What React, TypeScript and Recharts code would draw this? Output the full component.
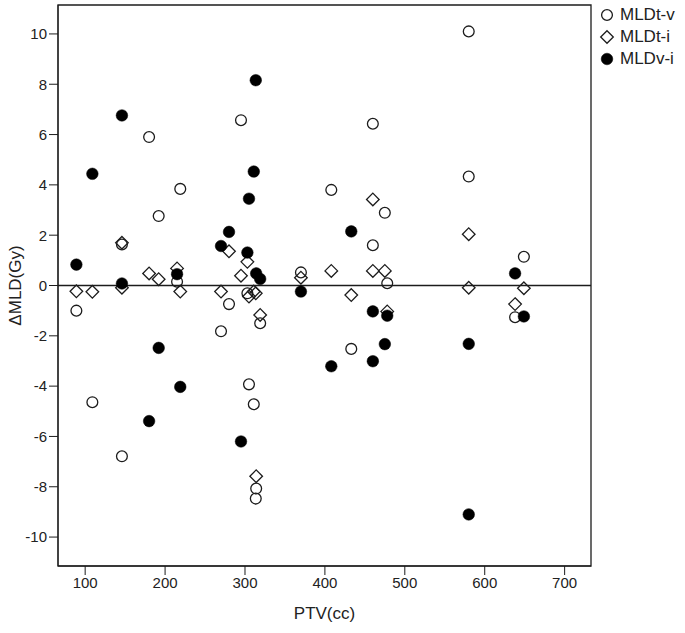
import {
  ScatterChart,
  Scatter,
  XAxis,
  YAxis,
  ReferenceLine,
  ReferenceArea,
  Legend,
} from "recharts";

// one entry per patient
const ptv = [89, 109, 146, 146, 180, 192, 215, 219, 270, 280, 295, 303, 305, 311, 313.5, 314, 319, 370, 408, 433, 460, 460, 475, 478, 580, 580, 638, 649];
const mldTV = [-1.0, -4.64, 1.63, -6.79, 5.9, 2.76, 0.15, 3.84, -1.82, -0.74, 6.57, -0.31, -3.93, -4.72, -8.47, -8.07, -1.5, 0.52, 3.8, -2.52, 6.43, 1.6, 2.89, 0.09, 10.1, 4.33, -1.26, 1.14];
const mldTI = [-0.23, -0.25, 1.7, -0.09, 0.48, 0.25, 0.68, -0.24, -0.24, 1.36, 0.39, 0.94, -0.44, -0.24, -0.31, -7.58, -1.17, 0.31, 0.58, -0.38, 3.42, 0.58, 0.58, -1.03, -0.09, 2.04, -0.74, -0.11];
const mldVI = [0.83, 4.44, 0.08, 6.76, -5.39, -2.48, 0.45, -4.03, 1.57, 2.13, -6.2, 1.31, 3.45, 4.53, 8.16, 0.48, 0.26, -0.24, -3.21, 2.15, -3.01, -1.03, -2.33, -1.2, -9.1, -2.32, 0.48, -1.23];

const xTicks = [100, 200, 300, 400, 500, 600, 700];
const yTicks = [-10, -8, -6, -4, -2, 0, 2, 4, 6, 8, 10];
const seriesNames = ["MLDt-v", "MLDt-i", "MLDv-i"];

const X_MIN = 66;
const X_MAX = 733;
const Y_LIM = 11.15;

const INK = "#1c1c1c";
const FONT = "'Liberation Sans', Arial, sans-serif";

const toPoints = (ys: number[]) => ptv.map((x, i) => ({ x, y: ys[i] }));

function OpenCircle(p: any) {
  return <circle cx={p.cx} cy={p.cy} r={5.4} fill="none" stroke={INK} strokeWidth={1.3} />;
}

function Diamond(p: any) {
  const s = 6.3;
  const { cx, cy } = p;
  return (
    <path
      d={`M${cx},${cy - s}L${cx + s},${cy}L${cx},${cy + s}L${cx - s},${cy}Z`}
      fill="none"
      stroke={INK}
      strokeWidth={1.3}
    />
  );
}

function FilledDot(p: any) {
  return <circle cx={p.cx} cy={p.cy} r={5.8} fill="#000" stroke="#000" strokeWidth={0.5} />;
}

const shapes = [OpenCircle, Diamond, FilledDot];

function LegendBox() {
  return (
    <div style={{ fontFamily: FONT, fontSize: 17, color: "#222" }}>
      {seriesNames.map((name, i) => {
        const Shape = shapes[i];
        return (
          <div key={name} style={{ display: "flex", alignItems: "center", height: 22 }}>
            <svg width={16} height={16} style={{ marginRight: 5 }}>
              <Shape cx={8} cy={8} />
            </svg>
            <span>{name}</span>
          </div>
        );
      })}
    </div>
  );
}

export default function App() {
  const tickStyle = { fontFamily: FONT, fontSize: 15, fill: "#222" };
  return (
    <div style={{ position: "absolute", left: 0, top: 0, background: "#fff" }}>
      <ScatterChart
        width={685}
        height={633}
        margin={{ top: 5, right: 94, bottom: 0, left: 0 }}
      >
        <XAxis
          type="number"
          dataKey="x"
          domain={[X_MIN, X_MAX]}
          ticks={xTicks}
          height={67}
          tickSize={9}
          tick={tickStyle}
          stroke={INK}
          allowDataOverflow
          label={{
            value: "PTV(cc)",
            position: "insideBottom",
            offset: 14,
            style: { fontFamily: FONT, fontSize: 17, fill: "#222" },
          }}
        />
        <YAxis
          type="number"
          dataKey="y"
          domain={[-Y_LIM, Y_LIM]}
          ticks={yTicks}
          width={58}
          tickSize={9}
          tick={tickStyle}
          stroke={INK}
          allowDataOverflow
          label={{
            value: "ΔMLD(Gy)",
            angle: -90,
            position: "insideLeft",
            offset: 15,
            style: { fontFamily: FONT, fontSize: 17, fill: "#222", textAnchor: "middle" },
          }}
        />
        <ReferenceArea
          x1={X_MIN}
          x2={X_MAX}
          y1={-Y_LIM}
          y2={Y_LIM}
          fill="none"
          stroke={INK}
          strokeWidth={1.3}
        />
        <ReferenceLine y={0} stroke={INK} strokeWidth={1.5} />
        <Legend
          layout="vertical"
          align="center"
          verticalAlign="middle"
          wrapperStyle={{ left: 599, top: 4, width: 86 }}
          content={<LegendBox />}
        />
        {seriesNames.map((name, i) => (
          <Scatter
            key={name}
            name={name}
            data={toPoints([mldTV, mldTI, mldVI][i])}
            shape={shapes[i]}
            isAnimationActive={false}
          />
        ))}
      </ScatterChart>
    </div>
  );
}
